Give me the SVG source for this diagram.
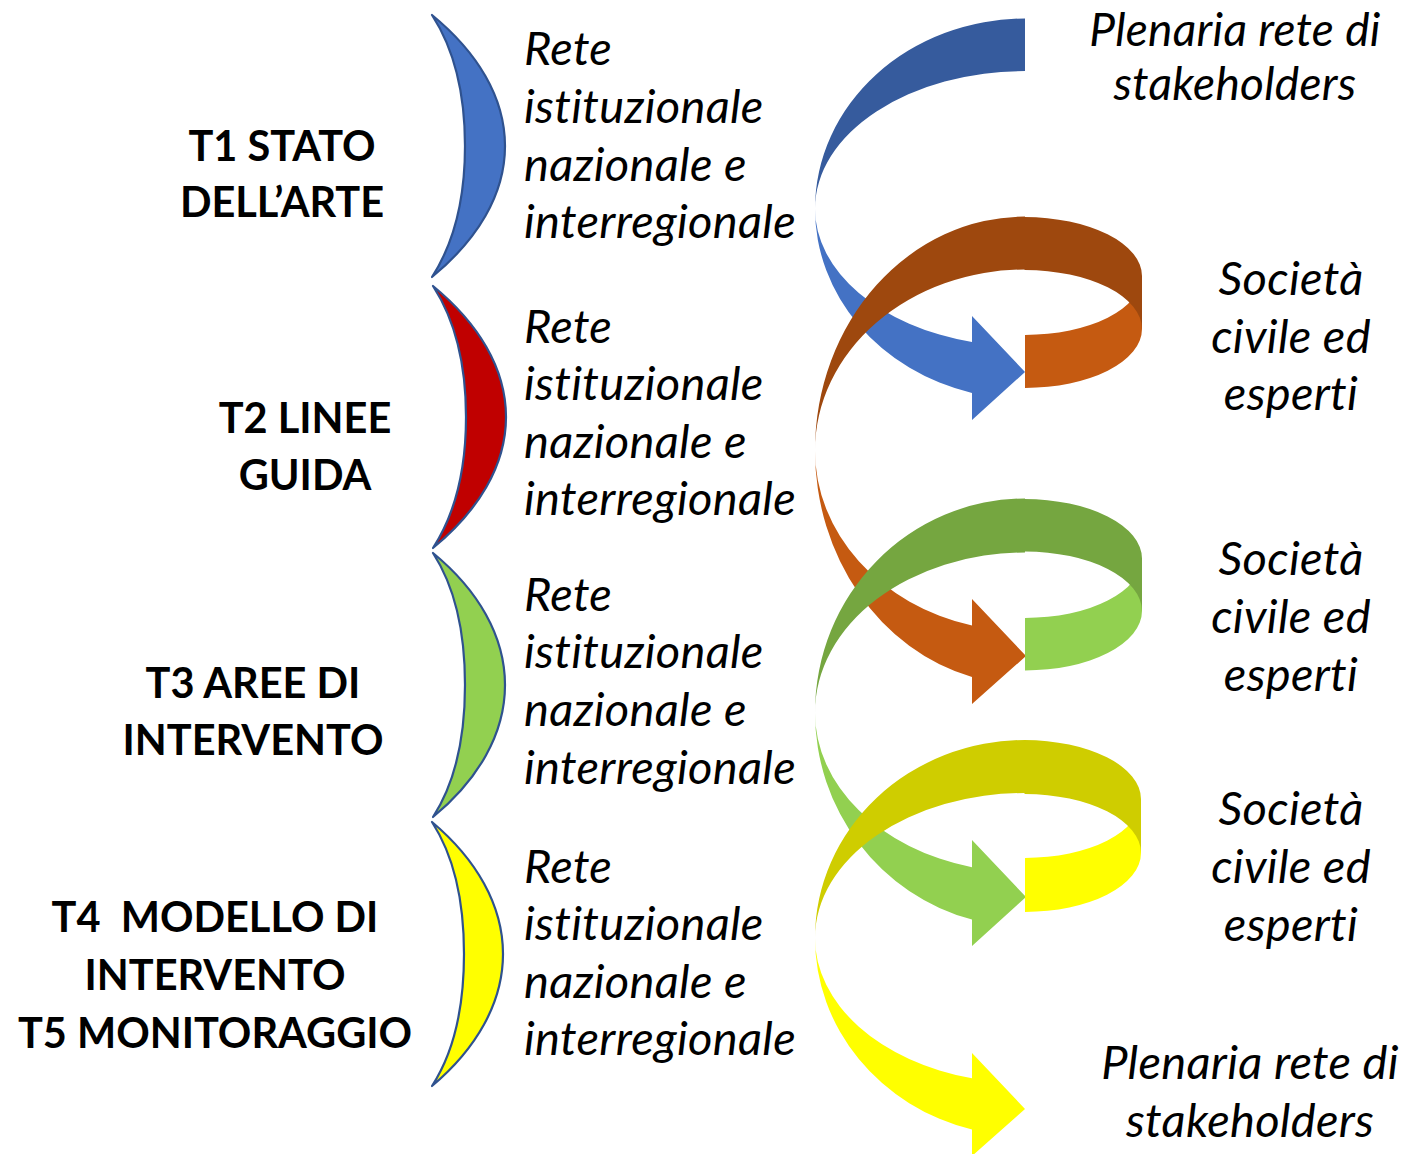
<svg xmlns="http://www.w3.org/2000/svg" width="1407" height="1154" viewBox="0 0 1407 1154">
<style>
text{font-variant-ligatures:none}
.bold{font-family:Lato,"Open Sans","Liberation Sans",sans-serif;font-weight:700;font-size:41.5px;fill:#000;text-anchor:middle}
.it{font-family:Lato,"Open Sans","Liberation Sans",sans-serif;font-style:italic;font-size:47px;letter-spacing:0.3px;fill:#000}
.itc{font-family:Lato,"Open Sans","Liberation Sans",sans-serif;font-style:italic;font-size:47px;letter-spacing:0.3px;fill:#000;text-anchor:middle}
.br{stroke:#2F528F;stroke-width:2.2;stroke-linejoin:round}
</style>
<rect width="1407" height="1154" fill="#fff"/>

<g id="t1">
<path class="br" fill="#4472C4" d="M432,15 C477,52 505,97 505,146 C505,195 477,240 432,277 C456,240 465,195 465,146 C465,97 456,52 432,15 Z"/>
<text class="bold" x="282" y="161">T1 STATO</text>
<text class="bold" x="282" y="217">DELL’ARTE</text>
</g>
<g id="t2">
<path class="br" fill="#C00000" d="M433,286 C478,323 506,368 506,417 C506,466 478,511 433,548 C457,511 466,466 466,417 C466,368 457,323 433,286 Z"/>
<text class="bold" x="305" y="433">T2 LINEE</text>
<text class="bold" x="305" y="490">GUIDA</text>
</g>
<g id="t3">
<path class="br" fill="#92D050" d="M433,553 C478,590 505,636 505,685 C505,734 478,780 433,817 C457,780 465,734 465,685 C465,636 457,590 433,553 Z"/>
<text class="bold" x="253" y="698">T3 AREE DI</text>
<text class="bold" x="253" y="755">INTERVENTO</text>
</g>
<g id="t4">
<path class="br" fill="#FFFF00" d="M432,822 C476,859 503,905 503,954 C503,1003 476,1049 432,1086 C456,1049 464,1003 464,954 C464,905 456,859 432,822 Z"/>
<text class="bold" x="215" y="932" xml:space="preserve">T4  MODELLO DI</text>
<text class="bold" x="215" y="990">INTERVENTO</text>
<text class="bold" x="215" y="1048">T5 MONITORAGGIO</text>
</g>

<g id="rete1">
<text class="it" x="524" y="65">Rete</text>
<text class="it" x="524" y="123">istituzionale</text>
<text class="it" x="524" y="181">nazionale e</text>
<text class="it" x="524" y="238">interregionale</text>
</g>
<g id="rete2">
<text class="it" x="524" y="343">Rete</text>
<text class="it" x="524" y="400">istituzionale</text>
<text class="it" x="524" y="458">nazionale e</text>
<text class="it" x="524" y="515">interregionale</text>
</g>
<g id="rete3">
<text class="it" x="524" y="611">Rete</text>
<text class="it" x="524" y="668">istituzionale</text>
<text class="it" x="524" y="726">nazionale e</text>
<text class="it" x="524" y="784">interregionale</text>
</g>
<g id="rete4">
<text class="it" x="524" y="883">Rete</text>
<text class="it" x="524" y="940">istituzionale</text>
<text class="it" x="524" y="998">nazionale e</text>
<text class="it" x="524" y="1055">interregionale</text>
</g>

<g id="plenaria1">
<text class="itc" x="1235" y="46" style="font-size:46px">Plenaria rete di</text>
<text class="itc" x="1235" y="100" style="font-size:46px">stakeholders</text>
</g>
<g id="societa1">
<text class="itc" x="1291" y="295">Società</text>
<text class="itc" x="1291" y="353">civile ed</text>
<text class="itc" x="1291" y="410">esperti</text>
</g>
<g id="societa2">
<text class="itc" x="1291" y="575">Società</text>
<text class="itc" x="1291" y="633">civile ed</text>
<text class="itc" x="1291" y="691">esperti</text>
</g>
<g id="societa3">
<text class="itc" x="1291" y="825">Società</text>
<text class="itc" x="1291" y="883">civile ed</text>
<text class="itc" x="1291" y="941">esperti</text>
</g>
<g id="plenaria2">
<text class="itc" x="1250" y="1079">Plenaria rete di</text>
<text class="itc" x="1250" y="1137">stakeholders</text>
</g>

<g id="connectors">
<!-- blue -->
<path fill="#365B9D" d="M1025,18.5 A210,190.3 0 0 0 815,208.8 A210,137.7 0 0 1 1025,71.1 Z"/>
<path fill="#4472C4" d="M815,208.8 A210,190.3 0 0 0 972,392.9 L972,420 L1025,372 L972,316 L972,342 A210,137.7 0 0 1 815,208.8 Z"/>
<!-- orange -->
<path fill="#C55A11" d="M1142,276 A117,59 0 0 1 1025,335 L1025,388 A117,59 0 0 0 1142,329 Z"/>
<path fill="#9E480E" d="M1024.5,217 A117.5,59 0 0 1 1142,276 L1142,329 A117,59 0 0 0 1025,270 L1024.5,270 Z"/>
<path fill="#9E480E" d="M1025,216.5 A210,234 0 0 0 815,450.5 A210,181 0 0 1 1025,269.5 Z"/>
<path fill="#C55A11" d="M815,450.5 A210,234 0 0 0 972,676.9 L972,704 L1026,656 L972,599 L972,625.6 A210,181 0 0 1 815,450.5 Z"/>
<!-- green -->
<path fill="#92D050" d="M1142,558.5 A117,59.5 0 0 1 1025,618 L1025,670.5 A117,59.5 0 0 0 1142,611 Z"/>
<path fill="#75A640" d="M1024.5,499 A117.5,59.5 0 0 1 1142,558.5 L1142,611 A117,59.5 0 0 0 1025,551.5 L1024.5,551.5 Z"/>
<path fill="#75A640" d="M1025,498.5 A210,214 0 0 0 815,712.5 A210,160 0 0 1 1025,552.5 Z"/>
<path fill="#92D050" d="M815,712.5 A210,214 0 0 0 972,919.6 L972,946 L1026,897 L972,840 L972,867.3 A210,160 0 0 1 815,712.5 Z"/>
<!-- yellow -->
<path fill="#FFFF00" d="M1141,799 A116,59 0 0 1 1025,858 L1025,912 A116,59 0 0 0 1141,853 Z"/>
<path fill="#CFCD00" d="M1024.5,740 A116.5,59 0 0 1 1141,799 L1141,853 A116,59 0 0 0 1025,794 L1024.5,794 Z"/>
<path fill="#CFCD00" d="M1025,740 A210,198 0 0 0 815,938 A210,145 0 0 1 1025,793 Z"/>
<path fill="#FFFF00" d="M815,938 A210,198 0 0 0 972,1129.6 L972,1156 L1025,1109 L972,1053 L972,1078.3 A210,145 0 0 1 815,938 Z"/>
</g>
</svg>
